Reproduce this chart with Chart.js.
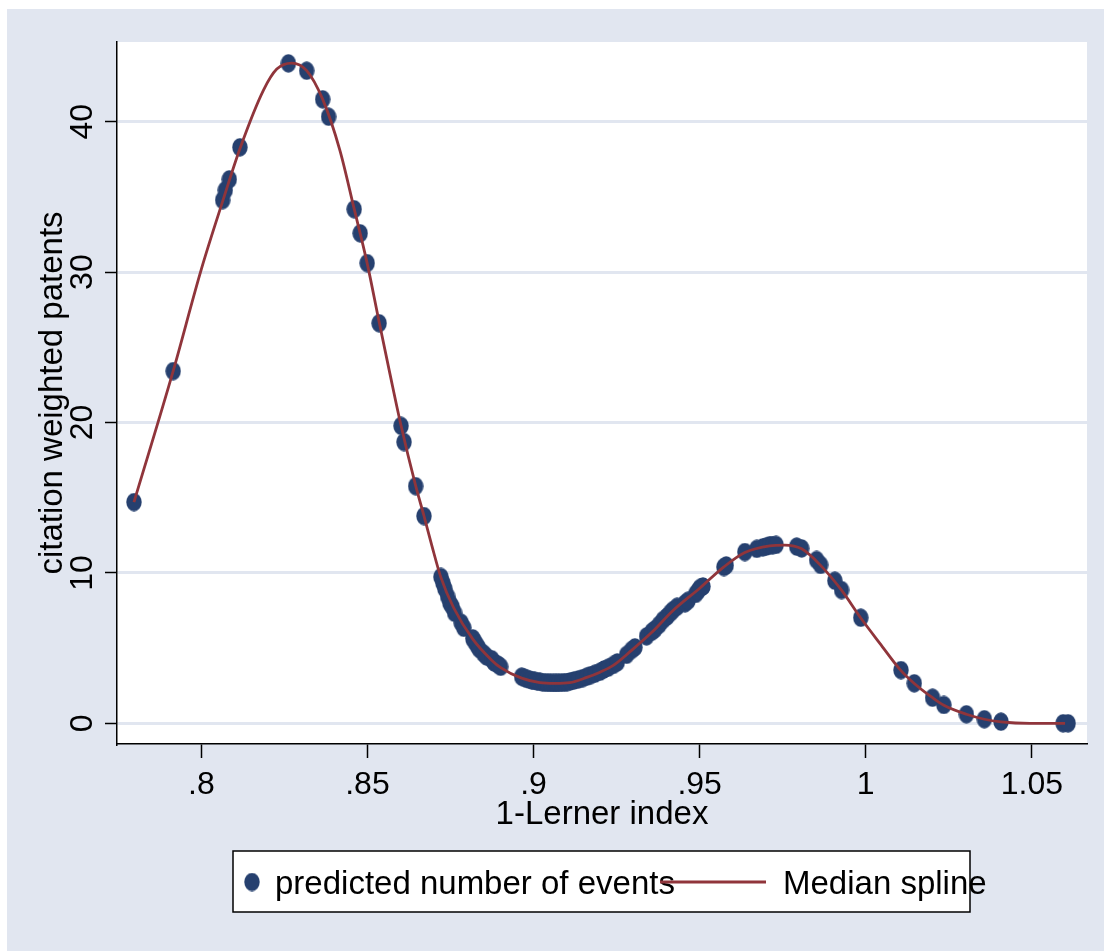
<!DOCTYPE html>
<html>
<head>
<meta charset="utf-8">
<script src="https://cdn.jsdelivr.net/npm/chart.js@4.4.1/dist/chart.umd.min.js"></script>
<style>
  html, body { margin: 0; padding: 0; background: #ffffff; }
  #wrap { width: 1104px; height: 951px; }
</style>
</head>
<body>
<div id="wrap"><canvas id="c" width="1104" height="951"></canvas></div>
<script>
// ---- data ----
const xTicks = [0.80, 0.85, 0.90, 0.95, 1.00, 1.05];
const xTickLabels = ['.8', '.85', '.9', '.95', '1', '1.05'];
const yTicks = [0, 10, 20, 30, 40];
const yTickLabels = ['0', '10', '20', '30', '40'];

const eventsX = [0.7797, 0.7915, 0.8064, 0.8072, 0.8084, 0.8116, 0.8262, 0.8317, 0.8365, 0.8383,
  0.8460, 0.8478, 0.8499, 0.8535, 0.8601, 0.8610, 0.8645, 0.8670,
  0.8721, 0.8727, 0.8733, 0.8741, 0.8748, 0.8755, 0.8762, 0.8782, 0.8790, 0.8817, 0.8822, 0.8829,
  0.8836, 0.8849, 0.8858, 0.8874, 0.8881, 0.8893, 0.8901,
  0.8964, 0.8972, 0.8980, 0.8988, 0.8995, 0.9003, 0.9011, 0.9019, 0.9027, 0.9035, 0.9043, 0.9051,
  0.9060, 0.9068, 0.9076, 0.9085, 0.9093, 0.9101, 0.9110, 0.9122, 0.9135, 0.9148, 0.9160, 0.9172,
  0.9185, 0.9200, 0.9212, 0.9225, 0.9240, 0.9252, 0.9280, 0.9295, 0.9305, 0.9340, 0.9356, 0.9365,
  0.9378, 0.9390, 0.9402, 0.9412, 0.9420, 0.9432, 0.9456, 0.9465, 0.9488, 0.9495, 0.9501, 0.9510,
  0.9573, 0.9580, 0.9636, 0.9672, 0.9690, 0.9700, 0.9711, 0.9720, 0.9730,
  0.9792, 0.9807, 0.9852, 0.9864, 0.9907, 0.9927, 0.9985,
  1.0106, 1.0146, 1.0201, 1.0235, 1.0303, 1.0357, 1.0407, 1.0594, 1.0609];
const eventsY = [14.71, 23.42, 34.79, 35.45, 36.17, 38.30, 43.88, 43.39, 41.49, 40.33,
  34.18, 32.58, 30.60, 26.60, 19.78, 18.70, 15.77, 13.78,
  9.73, 9.33, 8.95, 8.45, 8.00, 7.75, 7.35, 6.69, 6.35, 5.65, 5.45, 5.21,
  4.95, 4.65, 4.45, 4.26, 4.05, 3.90, 3.76,
  3.10, 3.02, 2.95, 2.90, 2.86, 2.82, 2.79, 2.76, 2.73, 2.71, 2.70, 2.69,
  2.68, 2.68, 2.69, 2.70, 2.72, 2.74, 2.78, 2.85, 2.92, 3.00, 3.10, 3.20,
  3.30, 3.43, 3.58, 3.70, 3.88, 4.05, 4.55, 4.87, 5.05, 5.78, 6.09, 6.25,
  6.55, 6.87, 7.10, 7.35, 7.53, 7.75, 7.98, 8.15, 8.60, 8.80, 9.00, 9.10,
  10.39, 10.50, 11.39, 11.60, 11.70, 11.75, 11.84, 11.85, 11.86,
  11.75, 11.63, 10.86, 10.53, 9.48, 8.86, 7.02,
  3.54, 2.66, 1.70, 1.22, 0.60, 0.27, 0.11, 0.00, 0.00];

const splineX = [0.7797, 0.7915, 0.8000, 0.8064, 0.8116, 0.8187, 0.8227, 0.8272, 0.8317, 0.8365,
  0.8417, 0.8460, 0.8499, 0.8535, 0.8568, 0.8601, 0.8645, 0.8670, 0.8694, 0.8721, 0.8759, 0.8817,
  0.8874, 0.8901, 0.8964, 0.9019, 0.9064, 0.9109, 0.9160, 0.9200, 0.9240, 0.9295, 0.9356, 0.9420,
  0.9501, 0.9573, 0.9636, 0.9711, 0.9756, 0.9807, 0.9864, 0.9927, 0.9985, 1.0043, 1.0106, 1.0146,
  1.0201, 1.0235, 1.0303, 1.0357, 1.0407, 1.0494, 1.0600];
const splineY = [14.71, 23.42, 30.2, 34.7, 38.2, 42.1, 43.5, 43.9, 43.4, 41.5,
  38.1, 34.2, 30.6, 26.7, 23.2, 19.8, 15.8, 13.8, 11.8, 9.7, 7.7, 5.6,
  4.2, 3.7, 3.0, 2.7, 2.65, 2.7, 3.05, 3.4, 3.85, 4.85, 6.05, 7.5,
  9.0, 10.4, 11.35, 11.8, 11.85, 11.6, 10.5, 8.85, 7.0, 5.3, 3.5, 2.65,
  1.7, 1.2, 0.6, 0.27, 0.1, 0.0, 0.0];

const seriesNames = ['predicted number of events', 'Median spline'];
const xTitle = '1-Lerner index';
const yTitle = 'citation weighted patents';

// ---- styles ----
const BG = '#e1e6f0';
const NAVY = '#26406f';
const MAROON = '#90353b';
const FONT = '"Liberation Sans", Arial, Helvetica, sans-serif';
const FS = 32;   // tick labels
const FT = 33;   // titles and legend

function makeDot(w, h) {
  const cv = document.createElement('canvas');
  cv.width = w; cv.height = h;
  const g = cv.getContext('2d');
  g.fillStyle = NAVY;
  g.beginPath();
  g.ellipse(w / 2, h / 2, w / 2 - 0.3, h / 2 - 0.3, 0, 0, Math.PI * 2);
  g.fill();
  return cv;
}
const dot = makeDot(16, 19);

const bgPlugin = {
  id: 'bg',
  beforeDraw(chart) {
    const ctx = chart.ctx, a = chart.chartArea;
    ctx.save();
    ctx.fillStyle = '#ffffff';
    ctx.fillRect(0, 0, chart.width, chart.height);
    ctx.fillStyle = BG;
    ctx.fillRect(7, 9, chart.width - 7, chart.height - 9);
    ctx.fillStyle = '#ffffff';
    ctx.fillRect(a.left, a.top, a.right - a.left, a.bottom - a.top);
    ctx.restore();
  },
  afterDraw(chart) {
    const ctx = chart.ctx;
    const ys = chart.scales.y;
    ctx.save();
    ctx.fillStyle = '#000000';
    ctx.font = FS + 'px ' + FONT;
    ctx.textAlign = 'center';
    ctx.textBaseline = 'alphabetic';
    yTicks.forEach((v, i) => {
      const py = ys.getPixelForValue(v);
      ctx.save();
      ctx.translate(92, py);
      ctx.rotate(-Math.PI / 2);
      ctx.fillText(yTickLabels[i], 0, 0);
      ctx.restore();
    });
    // legend
    const L = 233, T = 851, R = 970, B = 912;
    ctx.fillStyle = '#ffffff';
    ctx.fillRect(L, T, R - L, B - T);
    ctx.strokeStyle = '#000000';
    ctx.lineWidth = 1.5;
    ctx.strokeRect(L, T, R - L, B - T);
    ctx.drawImage(dot, 252 - dot.width / 2, 882 - dot.height / 2);
    ctx.fillStyle = '#000000';
    ctx.font = FT + 'px ' + FONT;
    ctx.textAlign = 'left';
    ctx.textBaseline = 'alphabetic';
    ctx.fillText(seriesNames[0], 275, 894);
    ctx.strokeStyle = MAROON;
    ctx.lineWidth = 3;
    ctx.beginPath();
    ctx.moveTo(660, 882);
    ctx.lineTo(766, 882);
    ctx.stroke();
    ctx.fillStyle = '#000000';
    ctx.fillText(seriesNames[1], 783, 894);
    ctx.restore();
  }
};

new Chart(document.getElementById('c'), {
  type: 'scatter',
  data: {
    datasets: [
      {
        type: 'line',
        label: seriesNames[1],
        data: splineX.map((x, i) => ({ x: x, y: splineY[i] })),
        borderColor: MAROON,
        borderWidth: 2.8,
        pointRadius: 0,
        fill: false,
        showLine: true,
        cubicInterpolationMode: 'monotone',
        order: 0
      },
      {
        type: 'scatter',
        label: seriesNames[0],
        data: eventsX.map((x, i) => ({ x: x, y: eventsY[i] })),
        pointStyle: dot,
        pointRadius: 8,
        backgroundColor: NAVY,
        borderWidth: 0,
        order: 1
      }
    ]
  },
  options: {
    responsive: false,
    animation: false,
    devicePixelRatio: 1,
    layout: { padding: { top: 42, right: 17, left: 0, bottom: 0 } },
    plugins: { legend: { display: false }, tooltip: { enabled: false } },
    scales: {
      x: {
        type: 'linear',
        min: 0.7746,
        max: 1.0666,
        afterBuildTicks(s) { s.ticks = xTicks.map(v => ({ value: v })); },
        afterFit(s) { s.height = 207; },
        grid: { drawOnChartArea: false, drawTicks: true, tickLength: 14, tickColor: '#000000', tickWidth: 1.5 },
        border: { display: true, color: '#000000', width: 1.5 },
        ticks: {
          color: '#000000',
          font: { family: FONT, size: FS },
          padding: 8,
          maxRotation: 0,
          minRotation: 0,
          autoSkip: false,
          callback(v, i) { return xTickLabels[i]; }
        },
        title: {
          display: true,
          text: xTitle,
          color: '#000000',
          font: { family: FONT, size: FT },
          padding: { top: 0, bottom: 116 }
        }
      },
      y: {
        type: 'linear',
        min: -1.376,
        max: 45.3,
        afterBuildTicks(s) { s.ticks = yTicks.map(v => ({ value: v })); },
        afterFit(s) { s.width = 117; },
        grid: { color: BG, lineWidth: 3, drawTicks: true, tickLength: 12, tickColor: '#000000', tickWidth: 1.5 },
        border: { display: true, color: '#000000', width: 1.5 },
        ticks: { display: false },
        title: {
          display: true,
          text: yTitle,
          color: '#000000',
          font: { family: FONT, size: FT },
          padding: { top: 33, bottom: 0 }
        }
      }
    }
  },
  plugins: [bgPlugin]
});
</script>
</body>
</html>
